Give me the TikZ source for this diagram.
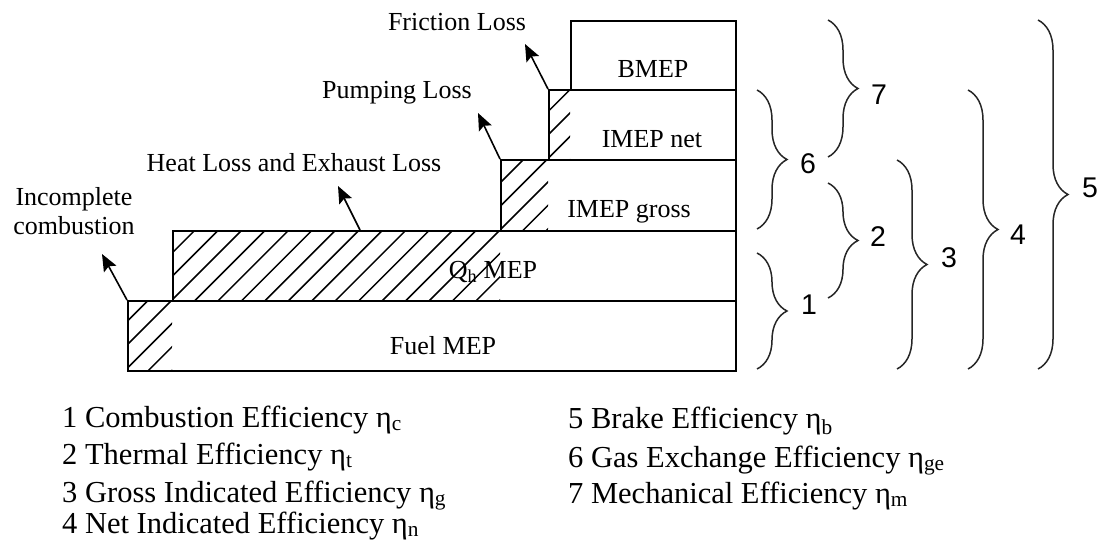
\documentclass[tikz,border=0pt]{standalone}
\usepackage{fontspec}
\setmainfont{Liberation Serif}
\newfontfamily\bracefont{Liberation Sans}
\usetikzlibrary{decorations.pathreplacing,arrows.meta}
\newcommand\lblsize{\fontsize{26}{29}\selectfont}
\newcommand\legsize{\fontsize{30.5}{34}\selectfont}
\newcommand\numsize{\bracefont\fontsize{28.5}{30}\selectfont}
\begin{document}
\begin{tikzpicture}[x=1pt,y=-1pt,
  mepbox/.style={draw=black,line width=1.6pt,anchor=north west,inner sep=0pt,minimum width=#1},
  hatchline/.style={line width=1.5pt},
  lossarrow/.style={line width=1.6pt,-{Stealth[length=17pt,width=14pt,inset=3pt]}},
  lbl/.style={font=\lblsize,inner sep=0pt,anchor=base},
  leg/.style={font=\legsize,inner sep=0pt,anchor=base west},
  bracel/.style={draw=black!85,line width=1.5pt,decorate,decoration={brace,amplitude=30pt}},
  num/.style={font=\numsize,inner sep=0pt}]
\useasboundingbox (0,0) rectangle (1106,541);

% hatching of the loss areas
\begin{scope}
  \clip (127,300) rectangle (172,370)
        (172,230) rectangle (500,300)
        (500,159) rectangle (548,230)
        (548,89) rectangle (570,159);
  \foreach \k in {-5,...,16}
    \draw[hatchline] ({472+23.45*\k-450},450) -- ({472+23.45*\k},0);
\end{scope}

% MEP boxes
\node[mepbox=608pt,minimum height=70pt] (fuel) at (127,300) {};
\node[mepbox=563pt,minimum height=70pt] (qh) at (172,230) {};
\node[mepbox=235pt,minimum height=71pt] (gross) at (500,159) {};
\node[mepbox=187pt,minimum height=70pt] (net) at (548,89) {};
\node[mepbox=165pt,minimum height=69pt] (bmep) at (570,20) {};

% box labels
\node[lbl] (tfuel) at (443,354) {Fuel MEP};
\node[lbl] (tqh) at (493,278) {Q\textsubscript{h} MEP};
\node[lbl] (tgross) at (629,217) {IMEP gross};
\node[lbl] (tnet) at (652,147) {IMEP net};
\node[lbl] (tbmep) at (653,77) {BMEP};

% loss labels
\node[font=\lblsize,inner sep=0pt,align=center] (tinc) at (74,211) {Incomplete\\combustion};
\node[lbl] (theat) at (294,171) {Heat Loss and Exhaust Loss};
\node[lbl] (tpump) at (397,98) {Pumping Loss};
\node[lbl] (tfric) at (457,30) {Friction Loss};

% loss arrows
\coordinate (incTip) at (102,254);
\coordinate (heatBase) at (360,230);
\coordinate (heatTip) at (338,186);
\coordinate (pumpTip) at (478,113);
\coordinate (fricTip) at (525,44);
\draw[lossarrow] (fuel.north west) -- (incTip);
\draw[lossarrow] (heatBase) -- (heatTip);
\draw[lossarrow] (gross.north west) -- (pumpTip);
\draw[lossarrow] (net.north west) -- (fricTip);

% braces
\coordinate (b7t) at (828,20);  \coordinate (b7b) at (828,157);
\coordinate (b6t) at (757,90);  \coordinate (b6b) at (757,229);
\coordinate (b2t) at (828,183); \coordinate (b2b) at (828,298);
\coordinate (b1t) at (757,253); \coordinate (b1b) at (757,369);
\coordinate (b3t) at (897,160); \coordinate (b3b) at (897,369);
\coordinate (b4t) at (968,90);  \coordinate (b4b) at (968,369);
\coordinate (b5t) at (1038,20); \coordinate (b5b) at (1038,369);
\draw[bracel] (b7t) -- (b7b);
\draw[bracel] (b6t) -- (b6b);
\draw[bracel] (b2t) -- (b2b);
\draw[bracel] (b1t) -- (b1b);
\draw[bracel] (b3t) -- (b3b);
\draw[bracel] (b4t) -- (b4b);
\draw[bracel] (b5t) -- (b5b);
\node[num] (n7) at (879,95) {7};
\node[num] (n6) at (808,164) {6};
\node[num] (n2) at (878,237) {2};
\node[num] (n1) at (809,305) {1};
\node[num] (n3) at (949,258) {3};
\node[num] (n4) at (1018,235) {4};
\node[num] (n5) at (1090,188) {5};

% legend
\node[leg] (l1) at (62,427) {1 Combustion Efficiency η\textsubscript{c}};
\node[leg] (l2) at (62,464) {2 Thermal Efficiency η\textsubscript{t}};
\node[leg] (l3) at (62,502) {3 Gross Indicated Efficiency η\textsubscript{g}};
\node[leg] (l4) at (62,533) {4 Net Indicated Efficiency η\textsubscript{n}};
\node[leg] (l5) at (568,428) {5 Brake Efficiency η\textsubscript{b}};
\node[leg] (l6) at (568,467) {6 Gas Exchange Efficiency η\textsubscript{ge}};
\node[leg] (l7) at (568,503) {7 Mechanical Efficiency η\textsubscript{m}};
\end{tikzpicture}
\end{document}
